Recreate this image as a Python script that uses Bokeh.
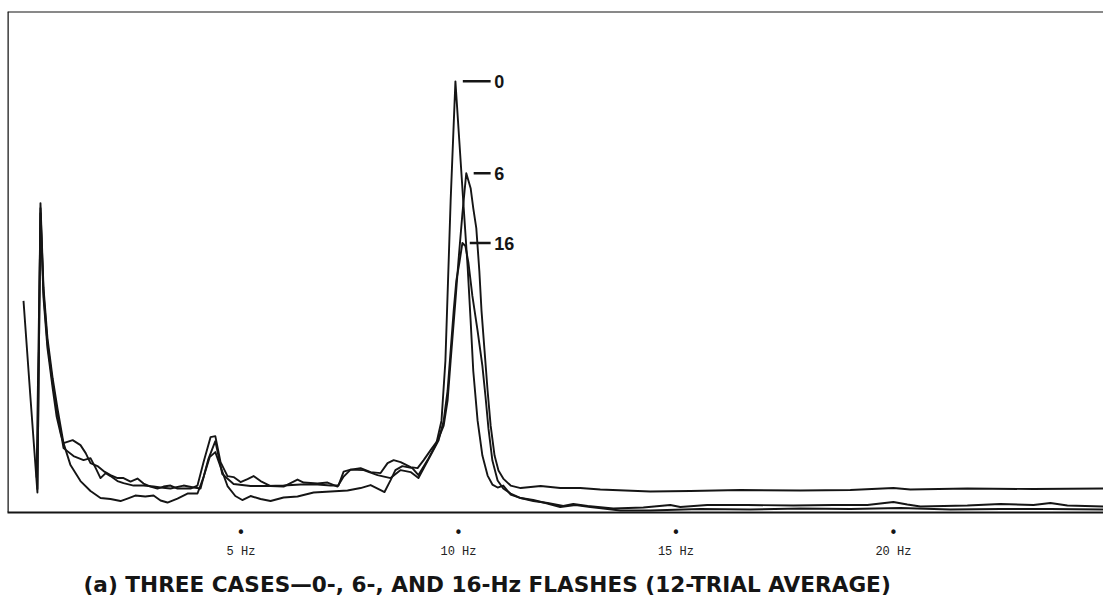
from bokeh.plotting import figure
from bokeh.models import Range1d, LinearAxis, FixedTicker, Span, Title
from bokeh.core.properties import value
from bokeh.embed import file_html
from bokeh.resources import INLINE
import numpy as np

# ---------------- data (frequency in Hz, relative power) ----------------
freq_0hz = [0.00, 0.16, 0.32, 0.39, 0.46, 0.55, 0.67, 0.78, 0.92, 1.08, 1.31, 1.54, 1.77, 2.00,
            2.23, 2.39, 2.57, 2.80, 2.99, 3.15, 3.31, 3.54, 3.77, 4.00, 4.14, 4.28, 4.41, 4.55,
            4.69, 4.87, 5.03, 5.22, 5.45, 5.68, 5.98, 6.30, 6.67, 7.06, 7.45, 7.75, 7.98, 8.21,
            8.30, 8.44, 8.55, 8.71, 8.94, 9.08, 9.29, 9.49, 9.61, 9.70, 9.82, 9.93, 10.02, 10.11,
            10.21, 10.28, 10.34, 10.44, 10.55, 10.67, 10.78, 10.90, 11.03, 11.20, 11.43, 11.72,
            12.00, 12.34, 12.69, 13.03, 13.72, 14.41, 15.56, 16.71, 17.86, 19.01, 20.16, 21.31,
            22.46, 23.61, 24.83]
amp_0hz = [42.4, 23.0, 4.0, 62.0, 45.0, 35.0, 26.9, 20.9, 13.9, 9.5, 6.3, 4.3, 2.9, 2.7,
           2.3, 2.8, 3.4, 3.2, 3.4, 2.4, 2.0, 2.8, 3.8, 3.8, 7.1, 11.1, 12.1, 8.7,
           5.3, 3.3, 2.5, 3.3, 2.7, 2.3, 3.0, 3.2, 4.0, 4.2, 4.4, 4.9, 5.5, 4.5,
           4.1, 6.5, 8.5, 9.3, 8.9, 7.5, 10.5, 13.8, 18.4, 30.4, 62.4, 86.4, 74.4, 62.4,
           49.4, 38.4, 28.4, 18.4, 11.4, 7.4, 5.6, 5.0, 5.4, 3.6, 2.9, 2.5,
           1.9, 1.1, 1.5, 1.1, 0.4, 0.4, 0.7, 0.6, 0.8, 0.7, 0.9, 0.6,
           0.7, 0.7, 0.6]

freq_6hz = [0.30, 0.39, 0.46, 0.55, 0.67, 0.76, 0.85, 0.92, 1.13, 1.31, 1.43, 1.54, 1.70, 1.84,
            2.00, 2.16, 2.30, 2.46, 2.62, 2.76, 2.92, 3.08, 3.22, 3.38, 3.54, 3.68, 3.84, 4.00,
            4.14, 4.30, 4.41, 4.53, 4.69, 4.83, 4.99, 5.15, 5.29, 5.45, 5.68, 5.98, 6.30, 6.44,
            6.76, 6.99, 7.22, 7.36, 7.52, 7.75, 7.98, 8.21, 8.37, 8.51, 8.67, 8.90, 9.06, 9.20,
            9.36, 9.52, 9.66, 9.75, 9.82, 9.93, 10.00, 10.09, 10.14, 10.18, 10.28, 10.34, 10.41,
            10.48, 10.53, 10.60, 10.67, 10.74, 10.83, 10.92, 11.03, 11.20, 11.43, 11.89, 12.34,
            12.80, 13.26, 14.41, 15.33, 16.48, 17.86, 19.01, 20.00, 20.39, 21.70, 23.22, 24.83]
amp_6hz = [7.0, 60.0, 43.0, 33.0, 24.9, 19.3, 15.9, 13.9, 14.5, 13.5, 11.9, 9.9, 9.3, 8.3,
           7.5, 6.9, 6.9, 6.2, 6.8, 5.8, 5.2, 4.8, 5.2, 5.4, 4.8, 4.8, 4.8, 5.4,
           10.1, 15.1, 15.3, 10.1, 7.3, 7.1, 6.1, 6.7, 7.3, 6.3, 5.3, 5.2, 6.6, 6.0,
           5.8, 6.0, 5.2, 7.2, 8.6, 8.9, 8.1, 7.9, 9.9, 10.5, 10.1, 9.1, 8.9, 10.5,
           12.5, 14.4, 17.4, 22.4, 30.4, 42.4, 50.4, 59.8, 64.4, 68.0, 65.0, 61.0, 57.0,
           48.4, 40.4, 32.4, 24.4, 17.4, 11.4, 8.4, 6.8, 5.4, 4.9, 5.3, 4.9,
           4.9, 4.6, 4.2, 4.3, 4.5, 4.4, 4.5, 4.9, 4.6, 4.8, 4.7, 4.8]

freq_16hz = [0.32, 0.39, 0.46, 0.55, 0.67, 0.78, 0.92, 1.15, 1.38, 1.54, 1.66, 1.77, 1.89, 2.00,
             2.16, 2.30, 2.53, 2.76, 2.99, 3.15, 3.38, 3.68, 3.91, 4.07, 4.25, 4.41, 4.57, 4.83,
             5.22, 5.61, 5.98, 6.37, 6.76, 7.06, 7.24, 7.36, 7.52, 7.82, 8.14, 8.44, 8.67, 8.90,
             9.08, 9.24, 9.40, 9.54, 9.66, 9.75, 9.82, 9.89, 9.95, 10.02, 10.09, 10.16, 10.23,
             10.32, 10.44, 10.55, 10.62, 10.69, 10.78, 10.90, 11.03, 11.20, 11.43, 11.72, 12.05,
             12.41, 12.64, 12.97, 13.56, 14.25, 14.87, 15.10, 15.72, 16.64, 17.70, 18.62, 19.40,
             20.00, 20.32, 20.62, 21.70, 22.46, 23.22, 23.61, 24.00, 24.83]
amp_16hz = [4.6, 61.0, 44.0, 34.0, 25.9, 19.9, 12.9, 11.3, 10.5, 10.9, 8.9, 6.9, 7.9, 7.3,
            6.3, 5.9, 5.4, 5.4, 5.2, 5.0, 4.8, 5.4, 5.0, 4.8, 10.7, 14.3, 7.7, 5.7,
            5.3, 5.3, 5.4, 5.6, 5.6, 5.4, 5.4, 8.2, 8.6, 8.5, 7.5, 6.9, 8.5, 8.1,
            6.9, 9.5, 12.1, 14.4, 18.4, 24.4, 32.4, 40.4, 46.4, 50.0, 54.0, 53.4, 50.0,
            43.4, 36.4, 29.4, 23.4, 16.8, 10.4, 6.4, 4.8, 3.8, 2.9, 2.3, 1.9,
            1.3, 1.7, 1.3, 0.8, 1.0, 1.5, 1.1, 1.5, 1.5, 1.4, 1.5, 1.5,
            2.1, 1.6, 1.2, 1.4, 1.7, 1.5, 1.9, 1.4, 1.2]

series_freqs = [freq_0hz, freq_6hz, freq_16hz]
series_amps = [amp_0hz, amp_6hz, amp_16hz]
peak_names = ["0", "6", "16"]

tick_hz = [5, 10, 15, 20]
tick_labels = ["5 Hz", "10 Hz", "15 Hz", "20 Hz"]
caption = "(a)  THREE CASES\u20140-, 6-, AND 16-Hz FLASHES (12-TRIAL AVERAGE)"

# ---------------- figure ----------------
INK = "#151515"
X0, X1 = -0.368, 24.83
Y0, Y1 = 0, 100.4
p = figure(width=1103, height=605, output_backend="svg", toolbar_location=None,
           x_range=Range1d(X0, X1), y_range=Range1d(Y0, Y1),
           x_axis_location=None, y_axis_location=None,
           min_border_left=7, min_border_right=0, min_border_top=11, min_border_bottom=40)
p.outline_line_color = None
p.grid.visible = False
p.background_fill_color = "white"
p.border_fill_color = "white"

# frame: top and left borders (bottom is the axis line)
p.add_layout(Span(location=Y1, dimension="width", line_color=INK, line_width=2))
p.add_layout(Span(location=X0, dimension="height", line_color=INK, line_width=2.5))

for fx, ay in zip(series_freqs, series_amps):
    p.line(fx, ay, line_color=INK, line_width=1.9, line_join="round")

# peak labels (alpha-band peak of each curve)
label_col = 10.74
for fx, ay, name in zip(series_freqs, series_amps, peak_names):
    fa, aa = np.array(fx), np.array(ay)
    band = fa > 5
    k = int(np.argmax(np.where(band, aa, -1)))
    px, py = fa[k], aa[k]
    p.segment(x0=[px + 0.17], y0=[py], x1=[label_col], y1=[py], line_color=INK, line_width=2.5)
    p.text(x=[label_col + 0.08], y=[py], text=[name], text_baseline="middle", text_align="left",
           text_font=value("Liberation Sans"), text_font_size="18px", text_font_style="bold",
           text_color=INK)

# bottom axis: border line + tick dots
ax1 = LinearAxis(ticker=FixedTicker(ticks=tick_hz),
                 major_label_overrides={t: "\u2022" for t in tick_hz})
ax1.axis_line_color = INK
ax1.axis_line_width = 2.2
ax1.major_tick_line_color = None
ax1.minor_tick_line_color = None
ax1.major_tick_out = 0
ax1.major_tick_in = 0
ax1.minor_tick_out = 0
ax1.minor_tick_in = 0
ax1.major_label_standoff = 11
ax1.major_label_text_font = "DejaVu Sans"
ax1.major_label_text_font_size = "15px"
ax1.major_label_text_color = INK
p.add_layout(ax1, "below")

# second axis row: frequency labels
ax2 = LinearAxis(ticker=FixedTicker(ticks=tick_hz),
                 major_label_overrides={t: lab for t, lab in zip(tick_hz, tick_labels)})
ax2.axis_line_color = None
ax2.major_tick_line_color = None
ax2.minor_tick_line_color = None
ax2.major_tick_out = 0
ax2.major_tick_in = 0
ax2.minor_tick_out = 0
ax2.minor_tick_in = 0
ax2.major_label_standoff = 0
ax2.major_label_text_font = "Liberation Mono"
ax2.major_label_text_font_size = "12px"
ax2.major_label_text_color = "#222222"
p.add_layout(ax2, "below")

t = Title(text=caption, align="left", offset=76, text_font="DejaVu Sans",
          text_font_size="21.6px", text_font_style="bold", text_color=INK, standoff=17)
p.add_layout(t, "below")

open("out.html", "w").write(file_html(p, INLINE))
